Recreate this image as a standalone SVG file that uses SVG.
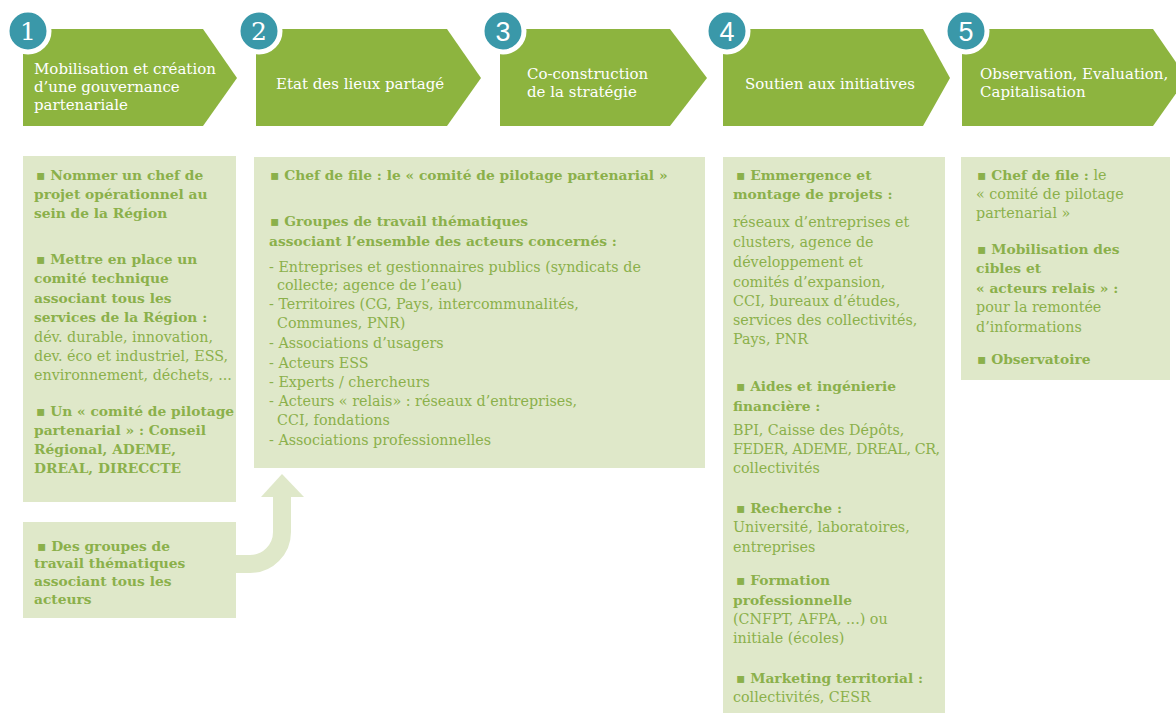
<svg xmlns="http://www.w3.org/2000/svg" width="1176" height="713" viewBox="0 0 1176 713">
<style>
.chev{fill:#8db43f}
.box{fill:#dfe8c9}
.num{fill:#3a98a9;stroke:#fff;stroke-width:5}
.nt{font-family:"DejaVu Serif",serif;font-size:25px;fill:#fff;text-anchor:middle}
.ns{font-family:"Liberation Sans",sans-serif;font-size:27px;fill:#fff;text-anchor:middle}
.h{font-family:"DejaVu Serif",serif;font-size:15px;fill:#fff}
.t{font-family:"DejaVu Serif",serif;font-size:14.3px;fill:#8bb04b}
.b{font-weight:bold;font-size:13.8px}
.arrow{fill:none;stroke:#dfe8c9;stroke-width:18}
.ah{fill:#dfe8c9}
</style>
<rect width="1176" height="713" fill="#fff"/>

<g id="step1">
<polygon class="chev" points="23,29 203,29 237,78 203,126 23,126"/>
<circle class="num" cx="28" cy="31" r="21"/>
<text class="nt" x="28" y="40">1</text>
<text class="h"><tspan x="34" y="74">Mobilisation et création</tspan><tspan x="34" y="92">d’une gouvernance</tspan><tspan x="34" y="110">partenariale</tspan></text>
</g>
<g id="step2">
<polygon class="chev" points="256,29 447,29 481,78 447,126 256,126"/>
<circle class="num" cx="259" cy="31" r="21"/>
<text class="nt" x="259" y="40">2</text>
<text class="h" x="276" y="89">Etat des lieux partagé</text>
</g>
<g id="step3">
<polygon class="chev" points="500,29 670,29 707,78 670,126 500,126"/>
<circle class="num" cx="503" cy="31" r="21"/>
<text class="ns" x="503" y="41">3</text>
<text class="h"><tspan x="527" y="79">Co-construction</tspan><tspan x="527" y="97">de la stratégie</tspan></text>
</g>
<g id="step4">
<polygon class="chev" points="723,29 923,29 950,78 923,126 723,126"/>
<circle class="num" cx="727" cy="31" r="21"/>
<text class="ns" x="727" y="41">4</text>
<text class="h" x="745" y="89">Soutien aux initiatives</text>
</g>
<g id="step5">
<polygon class="chev" points="962,29 1153,29 1187,78 1153,126 962,126"/>
<circle class="num" cx="966" cy="31" r="21"/>
<text class="ns" x="966" y="41">5</text>
<text class="h"><tspan x="980" y="79">Observation, Evaluation,</tspan><tspan x="980" y="97">Capitalisation</tspan></text>
</g>

<g id="connectors">
<path class="arrow" d="M236,564 H250 A32,32 0 0 0 282,532 V496"/>
<polygon class="ah" points="261,497 304,497 282,474"/>
</g>

<g id="box1">
<rect class="box" x="23" y="156" width="213" height="346"/>
<text class="t b">
<tspan x="36" y="180">▪ Nommer un chef de</tspan>
<tspan x="34" y="199">projet opérationnel au</tspan>
<tspan x="34" y="218">sein de la Région</tspan>
<tspan x="36" y="264">▪ Mettre en place un</tspan>
<tspan x="34" y="283">comité technique</tspan>
<tspan x="34" y="303">associant tous les</tspan>
<tspan x="34" y="322">services de la Région :</tspan>
</text>
<text class="t">
<tspan x="34" y="342">dév. durable, innovation,</tspan>
<tspan x="34" y="361">dev. éco et industriel, ESS,</tspan>
<tspan x="34" y="380">environnement, déchets, ...</tspan>
</text>
<text class="t b">
<tspan x="36" y="416">▪ Un « comité de pilotage</tspan>
<tspan x="34" y="435">partenarial » : Conseil</tspan>
<tspan x="34" y="454">Régional, ADEME,</tspan>
<tspan x="34" y="473">DREAL, DIRECCTE</tspan>
</text>
</g>

<g id="box1b">
<rect class="box" x="23" y="522" width="213" height="96"/>
<text class="t b">
<tspan x="37" y="551">▪ Des groupes de</tspan>
<tspan x="34" y="568">travail thématiques</tspan>
<tspan x="34" y="586">associant tous les</tspan>
<tspan x="34" y="604">acteurs</tspan>
</text>
</g>

<g id="box2">
<rect class="box" x="254" y="157" width="451" height="311"/>
<text class="t b">
<tspan x="270" y="180">▪ Chef de file : le « comité de pilotage partenarial »</tspan>
<tspan x="270" y="226">▪ Groupes de travail thématiques</tspan>
<tspan x="269" y="246">associant l’ensemble des acteurs concernés :</tspan>
</text>
<text class="t">
<tspan x="269" y="272">- Entreprises et gestionnaires publics (syndicats de</tspan>
<tspan x="277" y="290">collecte; agence de l’eau)</tspan>
<tspan x="269" y="309">- Territoires (CG, Pays, intercommunalités,</tspan>
<tspan x="277" y="328">Communes, PNR)</tspan>
<tspan x="269" y="348">- Associations d’usagers</tspan>
<tspan x="269" y="368">- Acteurs ESS</tspan>
<tspan x="269" y="387">- Experts / chercheurs</tspan>
<tspan x="269" y="406">- Acteurs « relais» : réseaux d’entreprises,</tspan>
<tspan x="277" y="425">CCI, fondations</tspan>
<tspan x="269" y="445">- Associations professionnelles</tspan>
</text>
</g>

<g id="box4">
<rect class="box" x="723" y="157" width="222" height="560"/>
<text class="t">
<tspan x="736" y="180" class="b">▪ Emmergence et</tspan>
<tspan x="733" y="199" class="b">montage de projets :</tspan>
<tspan x="733" y="227">réseaux d’entreprises et</tspan>
<tspan x="733" y="247">clusters, agence de</tspan>
<tspan x="733" y="267">développement et</tspan>
<tspan x="733" y="287">comités d’expansion,</tspan>
<tspan x="733" y="306">CCI, bureaux d’études,</tspan>
<tspan x="733" y="325">services des collectivités,</tspan>
<tspan x="733" y="344">Pays, PNR</tspan>
<tspan x="736" y="391" class="b">▪ Aides et ingénierie</tspan>
<tspan x="733" y="411" class="b">financière :</tspan>
<tspan x="733" y="435">BPI, Caisse des Dépôts,</tspan>
<tspan x="733" y="454" letter-spacing="-0.4">FEDER, ADEME, DREAL, CR,</tspan>
<tspan x="733" y="473">collectivités</tspan>
<tspan x="736" y="513" class="b">▪ Recherche :</tspan>
<tspan x="733" y="532">Université, laboratoires,</tspan>
<tspan x="733" y="552">entreprises</tspan>
<tspan x="736" y="585" class="b">▪ Formation</tspan>
<tspan x="733" y="605" class="b">professionnelle</tspan>
<tspan x="733" y="624">(CNFPT, AFPA, ...) ou</tspan>
<tspan x="733" y="643">initiale (écoles)</tspan>
<tspan x="736" y="683" class="b">▪ Marketing territorial :</tspan>
<tspan x="733" y="702">collectivités, CESR</tspan>
</text>
</g>

<g id="box5">
<rect class="box" x="961" y="157" width="209" height="223"/>
<text class="t">
<tspan x="977" y="180" class="b">▪ Chef de file :</tspan><tspan> le</tspan>
<tspan x="976" y="199">« comité de pilotage</tspan>
<tspan x="976" y="218">partenarial »</tspan>
<tspan x="977" y="254" class="b">▪ Mobilisation des</tspan>
<tspan x="976" y="273" class="b">cibles et</tspan>
<tspan x="976" y="293" class="b">« acteurs relais » :</tspan>
<tspan x="976" y="312">pour la remontée</tspan>
<tspan x="976" y="332">d’informations</tspan>
<tspan x="977" y="364" class="b">▪ Observatoire</tspan>
</text>
</g>
</svg>
